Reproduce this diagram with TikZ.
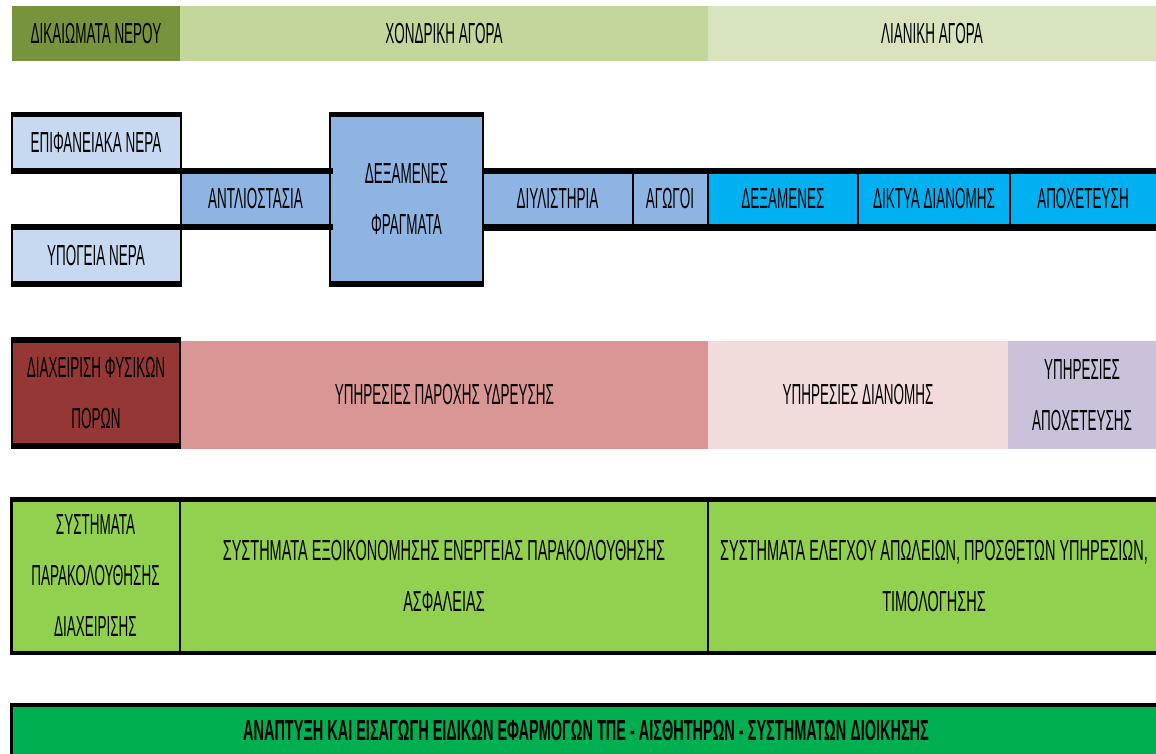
\documentclass[tikz,border=0pt]{standalone}
\usepackage{fontspec}
\setmainfont{Liberation Sans}[FakeStretch=0.465, BoldFeatures={FakeStretch=0.50}]
\newfontfamily\widecond{Liberation Sans}[FakeStretch=0.50]
\definecolor{olive}{HTML}{77933C}
\definecolor{olivel}{HTML}{C3D69B}
\definecolor{olivell}{HTML}{D7E4BD}
\definecolor{bluel}{HTML}{C6D9F1}
\definecolor{bluem}{HTML}{8EB4E3}
\definecolor{cyanb}{HTML}{00B0F0}
\definecolor{redd}{HTML}{953735}
\definecolor{pinkm}{HTML}{D99694}
\definecolor{pinkl}{HTML}{F2DCDB}
\definecolor{lav}{HTML}{CCC1DA}
\definecolor{greenl}{HTML}{92D050}
\definecolor{greend}{HTML}{00B050}
\tikzset{
  cell/.style={inner sep=0pt, outer sep=0pt, align=center, text=black,
    font={\fontsize{29}{51}\selectfont}},
  widecell/.style={cell, font={\widecond\fontsize{29}{51}\selectfont}},
  bar/.style={fill=black},
  thin/.style={draw=black, line width=2pt},
}
\begin{document}
\begin{tikzpicture}[x=1pt,y=-1pt]
\useasboundingbox (0,0) rectangle (1156,754);
\clip (0,0) rectangle (1156,754);
% title row
\node[cell, fill=olive, minimum width=168pt, minimum height=55pt] (rights) at (96,33.5) {ΔΙΚΑΙΩΜΑΤΑ ΝΕΡΟΥ};
\node[cell, fill=olivel, minimum width=528pt, minimum height=55pt] (whole) at (444,33.5) {ΧΟΝΔΡΙΚΗ ΑΓΟΡΑ};
\node[cell, fill=olivell, minimum width=448pt, minimum height=55pt] (retail) at (932,33.5) {ΛΙΑΝΙΚΗ ΑΓΟΡΑ};
% row 2
\node[cell, fill=bluel, minimum width=170pt, minimum height=62pt] (epif) at (96,143) {ΕΠΙΦΑΝΕΙΑΚΑ ΝΕΡΑ};
\node[cell, fill=bluel, minimum width=170pt, minimum height=63pt] (ypog) at (96,255.5) {ΥΠΟΓΕΙΑ ΝΕΡΑ};
\node[cell, fill=bluem, minimum width=149pt, minimum height=62pt] (antl) at (255.5,199) {ΑΝΤΛΙΟΣΤΑΣΙΑ};
\node[cell, fill=bluem, minimum width=153pt, minimum height=175pt] (dexf) at (406.5,199.5) {ΔΕΞΑΜΕΝΕΣ\\ΦΡΑΓΜΑΤΑ};
\node[cell, fill=bluem, minimum width=149pt, minimum height=62pt] (diyl) at (557.5,199) {ΔΙΥΛΙΣΤΗΡΙΑ};
\node[cell, fill=bluem, minimum width=76pt, minimum height=62pt] (agog) at (670,199) {ΑΓΩΓΟΙ};
\node[cell, fill=cyanb, minimum width=150pt, minimum height=62pt] (dex) at (783,199) {ΔΕΞΑΜΕΝΕΣ};
\node[cell, fill=cyanb, minimum width=152pt, minimum height=62pt] (dikt) at (934,199) {ΔΙΚΤΥΑ ΔΙΑΝΟΜΗΣ};
\node[cell, fill=cyanb, minimum width=150pt, minimum height=62pt] (apox) at (1085,199) {};
\node[cell] (apoxt) at (1083,199) {ΑΠΟΧΕΤΕΥΣΗ};
% row 2 borders
\fill[bar] (11,112) rectangle (181,117);
\fill[bar] (11,168) rectangle (333,174);
\fill[bar] (11,224) rectangle (333,230);
\fill[bar] (11,281) rectangle (181,287);
\fill[bar] (329,112) rectangle (484,117);
\fill[bar] (329,281) rectangle (484,287);
\fill[bar] (483,168) rectangle (1160,174);
\fill[bar] (483,224) rectangle (1160,231);
\draw[thin] (11.5,112) -- (11.5,174);
\draw[thin] (11.5,224) -- (11.5,287);
\draw[thin] (180.5,112) -- (180.5,287);
\draw[thin] (330,112) -- (330,287);
\draw[thin] (483,112) -- (483,287);
\draw[thin] (632.5,168) -- (632.5,231);
\draw[thin] (708,168) -- (708,231);
\draw[thin] (858,168) -- (858,231);
\draw[thin] (1010,168) -- (1010,231);
% row 3
\node[cell, fill=redd, minimum width=170pt, minimum height=112pt] (dfp) at (96,393) {ΔΙΑΧΕΙΡΙΣΗ ΦΥΣΙΚΩΝ\\ΠΟΡΩΝ};
\node[cell, fill=pinkm, minimum width=527pt, minimum height=108pt] (ypar) at (444.5,395) {ΥΠΗΡΕΣΙΕΣ ΠΑΡΟΧΗΣ ΥΔΡΕΥΣΗΣ};
\node[cell, fill=pinkl, minimum width=300pt, minimum height=108pt] (ydia) at (858,395) {ΥΠΗΡΕΣΙΕΣ ΔΙΑΝΟΜΗΣ};
\node[cell, fill=lav, minimum width=152pt, minimum height=108pt] (yapo) at (1084,395) {};
\node[cell] (yapot) at (1082,395) {ΥΠΗΡΕΣΙΕΣ\\ΑΠΟΧΕΤΕΥΣΗΣ};
\fill[bar] (11,337) rectangle (181,343);
\fill[bar] (11,443) rectangle (181,449);
\draw[thin] (11.5,337) -- (11.5,449);
\draw[thin] (180,337) -- (180,449);
% row 4
\node[cell, fill=greenl, minimum width=170pt, minimum height=158pt] (spd) at (95.5,576) {ΣΥΣΤΗΜΑΤΑ\\ΠΑΡΑΚΟΛΟΥΘΗΣΗΣ\\ΔΙΑΧΕΙΡΙΣΗΣ};
\node[widecell, fill=greenl, minimum width=528pt, minimum height=158pt] (sex) at (444,576) {ΣΥΣΤΗΜΑΤΑ ΕΞΟΙΚΟΝΟΜΗΣΗΣ ΕΝΕΡΓΕΙΑΣ ΠΑΡΑΚΟΛΟΥΘΗΣΗΣ\\ΑΣΦΑΛΕΙΑΣ};
\node[widecell, fill=greenl, minimum width=452pt, minimum height=158pt] (sel) at (934,576) {ΣΥΣΤΗΜΑΤΑ ΕΛΕΓΧΟΥ ΑΠΩΛΕΙΩΝ, ΠΡΟΣΘΕΤΩΝ ΥΠΗΡΕΣΙΩΝ,\\ΤΙΜΟΛΟΓΗΣΗΣ};
\fill[bar] (10,497) rectangle (1160,502);
\fill[bar] (10,651) rectangle (1160,655);
\fill[bar] (10,497) rectangle (13,655);
\draw[draw=black, line width=1.5pt] (180,497) -- (180,655);
\draw[draw=black, line width=1.5pt] (708,497) -- (708,655);
% row 5
\node[cell, fill=greend, minimum width=1150pt, minimum height=57pt] (dev) at (585,731.5) {};
\node[cell, font={\fontsize{29}{34}\bfseries\selectfont}] (devt) at (586,731) {ΑΝΑΠΤΥΞΗ ΚΑΙ ΕΙΣΑΓΩΓΗ ΕΙΔΙΚΩΝ ΕΦΑΡΜΟΓΩΝ ΤΠΕ - ΑΙΣΘΗΤΗΡΩΝ - ΣΥΣΤΗΜΑΤΩΝ ΔΙΟΙΚΗΣΗΣ};
\fill[bar] (10,703) rectangle (1160,707);
\fill[bar] (10,703) rectangle (13,760);
\end{tikzpicture}
\end{document}
